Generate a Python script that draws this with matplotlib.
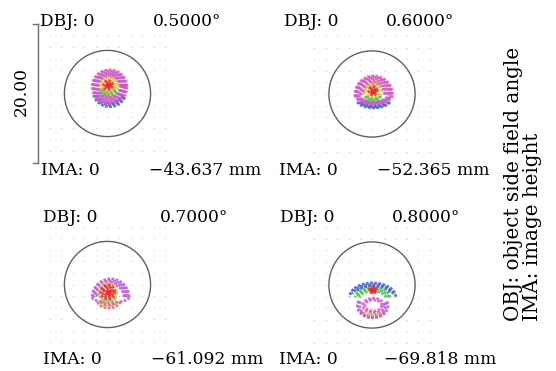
import numpy as np
import matplotlib.pyplot as plt
from matplotlib.patches import Arc, Circle

plt.rcParams['font.family'] = ['DejaVu Serif']

# field angles and image heights per panel
fields = ['0.5000\u00b0', '0.6000\u00b0', '0.7000\u00b0', '0.8000\u00b0']
img_heights = ['\u221243.637 mm', '\u221252.365 mm', '\u221261.092 mm', '\u221269.818 mm']
scale_label = '20.00'
airy_radius = 6.2  # um
box_size = 20.0    # um

colors = {'blue': '#3f5fd8', 'green': '#45c845', 'red': '#f22a2a', 'yellow': '#d8d030',
          'magenta': '#e050d0', 'purple': '#a060e8', 'pink': '#f05090'}

# spot rings: (color, cx, cy, width, height, theta1, theta2), in um, drawing order
spots_05 = [
    ('blue', 0.3, 0.4, 4.8, 4.6, 195, 345), ('blue', 0.3, 0.4, 4.3, 4.1, 198, 342),
    ('blue', 0.3, 0.4, 3.8, 3.6, 200, 340),
    ('magenta', 0.3, 1.0, 5.0, 4.8, 0, 360), ('pink', 0.3, 1.0, 4.6, 4.4, 0, 360),
    ('purple', 0.3, 1.0, 4.2, 4.0, 0, 360), ('magenta', 0.3, 1.0, 3.8, 3.6, 0, 360),
    ('purple', 0.3, 1.0, 3.4, 3.2, 0, 360), ('pink', 0.3, 1.0, 3.0, 2.8, 0, 360),
    ('yellow', 0.2, 1.1, 2.5, 2.4, 0, 360), ('green', 0.2, 0.6, 2.2, 1.6, 180, 360),
    ('yellow', 0.2, 1.1, 1.9, 1.8, 0, 360), ('green', 0.2, 0.7, 1.6, 1.2, 180, 360),
    ('red', 0.1, 1.2, 1.3, 1.3, 0, 360), ('red', 0.1, 1.2, 0.8, 0.8, 0, 360),
]
spots_06 = [
    ('blue', 0.25, -0.7, 5.0, 2.6, 190, 350), ('blue', 0.25, -0.7, 4.5, 2.3, 192, 348),
    ('blue', 0.25, -0.7, 4.0, 1.9, 195, 345),
    ('magenta', 0.25, -0.1, 5.4, 5.4, 0, 180), ('magenta', 0.25, -0.1, 5.4, 2.6, 180, 360),
    ('pink', 0.25, -0.1, 5.0, 5.0, 0, 180), ('pink', 0.25, -0.1, 5.0, 2.4, 180, 360),
    ('purple', 0.25, -0.1, 4.6, 4.6, 0, 180), ('purple', 0.25, -0.1, 4.6, 2.2, 180, 360),
    ('magenta', 0.25, -0.1, 4.1, 4.1, 0, 180), ('magenta', 0.25, -0.1, 4.1, 2.0, 180, 360),
    ('pink', 0.25, -0.1, 3.6, 3.6, 0, 180), ('purple', 0.25, -0.1, 3.1, 3.1, 0, 180),
    ('yellow', 0.15, 0.3, 2.4, 2.2, 0, 360), ('green', 0.15, -0.3, 2.2, 1.2, 180, 360),
    ('yellow', 0.15, 0.3, 1.8, 1.6, 0, 360), ('green', 0.15, -0.3, 1.6, 0.8, 180, 360),
    ('red', 0.15, 0.45, 1.2, 1.2, 0, 360), ('red', 0.15, 0.45, 0.7, 0.7, 0, 360),
]
spots_07 = [
    ('purple', 0.45, -1.8, 5.3, 5.2, 0, 180), ('purple', 0.45, -1.8, 5.3, 1.6, 180, 360),
    ('magenta', 0.45, -1.8, 4.8, 4.7, 0, 180), ('purple', 0.45, -1.8, 4.3, 4.2, 0, 180),
    ('magenta', 0.45, -1.8, 3.8, 3.7, 0, 180),
    ('pink', 0.2, -1.9, 3.6, 3.0, 200, 340), ('yellow', 0.2, -1.9, 3.1, 2.5, 205, 335),
    ('pink', 0.2, -1.9, 2.7, 2.1, 205, 335),
    ('green', 0.1, -1.6, 2.3, 1.6, 180, 360), ('yellow', 0.05, -1.1, 2.6, 2.6, 0, 360),
    ('red', 0.05, -1.1, 2.0, 2.0, 0, 360), ('red', 0.05, -1.1, 1.5, 1.5, 0, 360),
    ('red', 0.05, -1.1, 1.0, 1.0, 0, 360),
]
spots_08 = [
    ('blue', 0.1, -1.7, 6.6, 4.0, 0, 180), ('blue', 0.1, -1.7, 6.1, 3.5, 8, 172),
    ('blue', 0.1, -1.7, 5.6, 3.1, 15, 165),
    ('green', 0.1, -1.8, 5.0, 2.8, 0, 180), ('green', 0.1, -1.8, 4.4, 2.3, 0, 180),
    ('green', 0.1, -1.8, 3.8, 1.8, 0, 180),
    ('purple', 0.1, -3.0, 4.4, 3.4, 160, 380), ('purple', 0.1, -3.0, 3.8, 2.8, 160, 380),
    ('magenta', 0.2, -2.95, 3.0, 2.1, 0, 360), ('magenta', 0.2, -2.95, 2.4, 1.6, 0, 360),
    ('pink', 0.1, -3.2, 3.8, 3.0, 200, 340), ('yellow', 0.1, -3.2, 3.2, 2.2, 210, 330),
    ('red', 0.15, -0.7, 1.0, 0.9, 0, 360), ('red', 0.15, -0.7, 0.5, 0.5, 0, 360),
]
spots = [spots_05, spots_06, spots_07, spots_08]
red_core_x = [0.1, 0.15, 0.05, 0.15]
red_core_y = [1.2, 0.45, -1.1, -0.7]

# panel boxes in pixels (left, top)
W, H = 556, 371
box_px = 139
panel_px = [(38, 24), (302.5, 24.5), (38, 215), (302.5, 215.5)]
# text positions in pixels
dbj_px = [(40, 21), (284, 21), (43, 217), (280, 218)]
fld_px = [(153, 21), (386, 21), (160, 217), (392, 218)]
ima_px = [(41, 171), (279, 171), (43, 360), (279, 360)]
hgt_px = [(149, 171), (377, 171), (151, 360), (384, 360)]

fig = plt.figure(figsize=(W / 100, H / 100), dpi=100)
fs = 12.3

grid_ticks = np.linspace(-8.3, 8.3, 11)
gx, gy = np.meshgrid(grid_ticks, grid_ticks)

for i, (l, t) in enumerate(panel_px):
    ax = fig.add_axes([l / W, 1 - (t + box_px) / H, box_px / W, box_px / H])
    ax.set_xlim(-box_size / 2, box_size / 2)
    ax.set_ylim(-box_size / 2, box_size / 2)
    ax.axis('off')
    ax.scatter(gx.ravel(), gy.ravel(), s=0.8, color='#d0d0d0', linewidths=0)
    ax.add_patch(Circle((0, 0), airy_radius, fill=False, edgecolor='#606060', lw=1.0))
    for c, cx, cy, w, h, t1, t2 in spots[i]:
        ax.add_patch(Arc((cx, cy), w, h, theta1=t1, theta2=t2, edgecolor=colors[c],
                         lw=2.0, alpha=0.85, linestyle=(0, (1.0, 0.5))))
    ax.scatter([red_core_x[i]], [red_core_y[i]], s=18, color=colors['red'], linewidths=0, zorder=5)
    if i == 0:
        ax.plot([-10, -10], [-10, 10], color='#707070', lw=1.0, clip_on=False)
        ax.plot([-10.7, -10], [10, 10], color='#707070', lw=1.0, clip_on=False)
        ax.plot([-10.7, -10], [-10, -10], color='#707070', lw=1.0, clip_on=False)

for i in range(4):
    fig.text(dbj_px[i][0] / W, 1 - dbj_px[i][1] / H, 'DBJ: 0', fontsize=fs, va='center', ha='left')
    fig.text(fld_px[i][0] / W, 1 - fld_px[i][1] / H, fields[i], fontsize=fs, va='center', ha='left')
    fig.text(ima_px[i][0] / W, 1 - ima_px[i][1] / H, 'IMA: 0', fontsize=fs, va='center', ha='left')
    fig.text(hgt_px[i][0] / W, 1 - hgt_px[i][1] / H, img_heights[i], fontsize=fs, va='center', ha='left')

fig.text(21 / W, 1 - 92 / H, scale_label, fontsize=fs, rotation=90, va='center', ha='center')
fig.text(523 / W, 1 - 321 / H, 'OBJ: object side field angle\nIMA: image height', fontsize=14.3,
         rotation=90, va='bottom', ha='center', multialignment='left', linespacing=0.95)

fig.savefig('out.png', dpi=100, facecolor='white')
